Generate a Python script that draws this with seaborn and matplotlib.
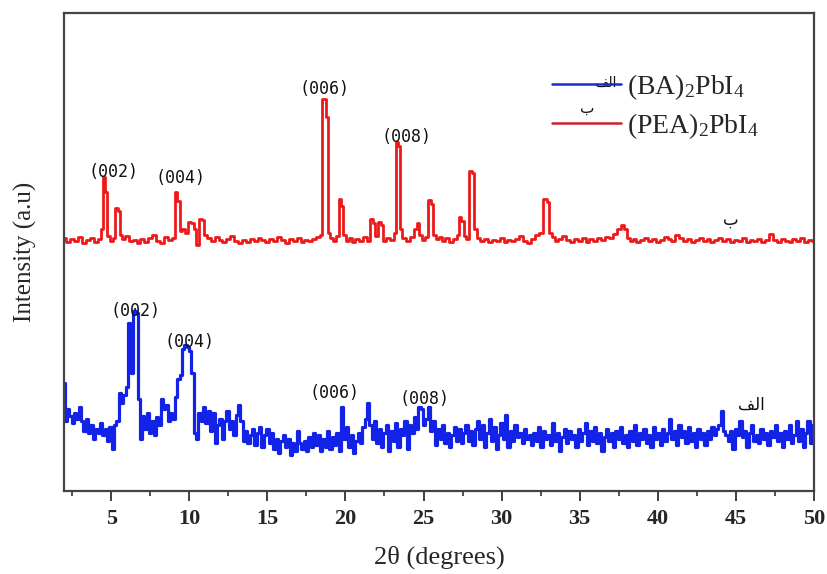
import matplotlib
matplotlib.use("Agg")
import matplotlib.pyplot as plt
from matplotlib.lines import Line2D
from matplotlib.ticker import MultipleLocator
import seaborn as sns
import pandas as pd

# ---------------- data ----------------
theta_pea = [2.0, 2.25, 2.5, 2.75, 3.0, 3.25, 3.5, 3.75, 4.0, 4.25, 4.45, 4.55, 4.68, 4.8, 5.0, 5.2, 5.35, 5.5, 5.6, 5.75,
             6.0, 6.25, 6.5, 6.75, 7.0, 7.25, 7.5, 7.75, 8.0, 8.25, 8.5, 8.75, 9.0, 9.15, 9.3, 9.45, 9.6, 9.8, 10.0, 10.2,
             10.35, 10.5, 10.7, 10.9, 11.05, 11.25, 11.5, 11.75, 12.0, 12.25, 12.5, 12.75, 13.0, 13.25, 13.5, 13.75, 14.0,
             14.25, 14.5, 14.75, 15.0, 15.25, 15.5, 15.75, 16.0, 16.25, 16.5, 16.75, 17.0, 17.25, 17.5, 17.75, 18.0, 18.25,
             18.45, 18.55, 18.7, 18.8, 18.95, 19.1, 19.3, 19.5, 19.65, 19.8, 19.95, 20.1, 20.3, 20.5, 20.75, 21.0, 21.25,
             21.45, 21.7, 21.85, 22.0, 22.2, 22.35, 22.5, 22.75, 23.0, 23.2, 23.3, 23.45, 23.55, 23.75, 24.0, 24.25, 24.5,
             24.65, 24.8, 25.0, 25.2, 25.4, 25.55, 25.7, 25.9, 26.1, 26.3, 26.5, 26.75, 27.0, 27.25, 27.35, 27.5, 27.65,
             27.85, 28.0, 28.15, 28.3, 28.5, 28.75, 29.0, 29.25, 29.5, 29.75, 30.0, 30.25, 30.5, 30.75, 31.0, 31.25, 31.5,
             31.75, 32.0, 32.25, 32.5, 32.8, 32.95, 33.1, 33.3, 33.5, 33.75, 34.0, 34.25, 34.5, 34.75, 35.0, 35.25, 35.5,
             35.75, 36.0, 36.25, 36.5, 36.75, 37.0, 37.25, 37.5, 37.75, 37.9, 38.1, 38.3, 38.5, 38.75, 39.0, 39.25, 39.5,
             39.75, 40.0, 40.25, 40.5, 40.75, 41.0, 41.25, 41.5, 41.75, 42.0, 42.25, 42.5, 42.75, 43.0, 43.25, 43.5, 43.75,
             44.0, 44.25, 44.5, 44.75, 45.0, 45.25, 45.5, 45.75, 46.0, 46.25, 46.5, 46.75, 47.0, 47.25, 47.5, 47.75, 48.0,
             48.25, 48.5, 48.75, 49.0, 49.25, 49.5, 49.75, 50.0]
int_pea = [253, 249, 252, 250, 254, 248, 251, 253, 249, 252, 262, 314, 299, 255, 250, 253, 283, 280, 256, 252,
           255, 250, 251, 248, 252, 249, 253, 256, 250, 248, 254, 251, 253, 299, 290, 260, 262, 258, 269, 268,
           262, 246, 272, 271, 256, 253, 250, 254, 251, 249, 252, 255, 250, 248, 251, 249, 252,
           250, 253, 251, 249, 252, 250, 254, 251, 248, 252, 250, 253, 249, 251, 250, 252, 254,
           256, 392, 392, 374, 258, 253, 250, 255, 292, 285, 256, 250, 253, 249, 252, 250, 254,
           250, 272, 268, 255, 269, 266, 250, 253, 251, 258, 349, 345, 262, 253, 250, 254, 262,
           268, 256, 251, 254, 291, 287, 256, 252, 254, 250, 253, 249, 252, 256, 274, 270, 255,
           252, 320, 318, 262, 253, 250, 252, 249, 251, 250, 253, 249, 251, 250, 252, 255, 250,
           248, 252, 256, 258, 292, 289, 258, 254, 250, 252, 255, 251, 249, 252, 250, 253, 249,
           252, 250, 253, 251, 254, 253, 257, 262, 266, 262, 253, 250, 252, 249, 251, 253, 250,
           252, 249, 251, 254, 252, 250, 256, 253, 250, 252, 249, 251, 253, 250, 252, 249, 251,
           253, 250, 252, 249, 251, 250, 253, 249, 251, 250, 252, 249, 251, 257, 251, 249, 252,
           250, 249, 252, 250, 253, 249, 251, 250]

theta_ba = [2.0, 2.1, 2.25, 2.4, 2.55, 2.7, 2.85, 3.0, 3.15, 3.3, 3.45, 3.6, 3.75, 3.9, 4.05, 4.2, 4.35, 4.5, 4.65, 4.8,
            4.95, 5.1, 5.25, 5.4, 5.55, 5.7, 5.85, 6.0, 6.1, 6.25, 6.35, 6.5, 6.62, 6.75, 6.9, 7.05, 7.2, 7.35, 7.5, 7.65,
            7.8, 7.95, 8.1, 8.25, 8.4, 8.55, 8.7, 8.85, 9.0, 9.15, 9.3, 9.45, 9.6, 9.75, 9.9, 10.05, 10.2, 10.35, 10.5,
            10.65, 10.8, 10.95, 11.1, 11.25, 11.4, 11.55, 11.7, 11.85, 12.0, 12.15, 12.3, 12.45, 12.6, 12.75, 12.9, 13.05,
            13.2, 13.35, 13.5, 13.65, 13.8, 13.95, 14.1, 14.25, 14.4, 14.55, 14.7, 14.85, 15.0, 15.15, 15.3, 15.45, 15.6,
            15.75, 15.9, 16.05, 16.2, 16.35, 16.5, 16.65, 16.8, 16.95, 17.1, 17.25, 17.4, 17.55, 17.7, 17.85, 18.0, 18.15,
            18.3, 18.45, 18.6, 18.75, 18.9, 19.05, 19.2, 19.35, 19.5, 19.65, 19.8, 19.95, 20.1, 20.25, 20.4, 20.55, 20.7,
            20.85, 21.0, 21.15, 21.3, 21.45, 21.6, 21.75, 21.9, 22.05, 22.2, 22.35, 22.5, 22.65, 22.8, 22.95, 23.1, 23.25,
            23.4, 23.55, 23.7, 23.85, 24.0, 24.15, 24.3, 24.45, 24.6, 24.75, 24.9, 25.05, 25.2, 25.35, 25.5, 25.65, 25.8,
            25.95, 26.1, 26.25, 26.4, 26.55, 26.7, 26.85, 27.0, 27.15, 27.3, 27.45, 27.6, 27.75, 27.9, 28.05, 28.2, 28.35,
            28.5, 28.65, 28.8, 28.95, 29.1, 29.25, 29.4, 29.55, 29.7, 29.85, 30.0, 30.15, 30.3, 30.45, 30.6, 30.75, 30.9,
            31.05, 31.2, 31.35, 31.5, 31.65, 31.8, 31.95, 32.1, 32.25, 32.4, 32.55, 32.7, 32.85, 33.0, 33.15, 33.3, 33.45,
            33.6, 33.75, 33.9, 34.05, 34.2, 34.35, 34.5, 34.65, 34.8, 34.95, 35.1, 35.25, 35.4, 35.55, 35.7, 35.85, 36.0,
            36.15, 36.3, 36.45, 36.6, 36.75, 36.9, 37.05, 37.2, 37.35, 37.5, 37.65, 37.8, 37.95, 38.1, 38.25, 38.4, 38.55,
            38.7, 38.85, 39.0, 39.15, 39.3, 39.45, 39.6, 39.75, 39.9, 40.05, 40.2, 40.35, 40.5, 40.65, 40.8, 40.95, 41.1,
            41.25, 41.4, 41.55, 41.7, 41.85, 42.0, 42.15, 42.3, 42.45, 42.6, 42.75, 42.9, 43.05, 43.2, 43.35, 43.5, 43.65,
            43.8, 43.95, 44.1, 44.25, 44.4, 44.55, 44.7, 44.85, 45.0, 45.15, 45.3, 45.45, 45.6, 45.75, 45.9, 46.05, 46.2,
            46.35, 46.5, 46.65, 46.8, 46.95, 47.1, 47.25, 47.4, 47.55, 47.7, 47.85, 48.0, 48.15, 48.3, 48.45, 48.6, 48.75,
            48.9, 49.05, 49.2, 49.35, 49.5, 49.65, 49.8, 49.95]
int_ba = [108, 70, 82, 75, 68, 78, 72, 84, 70, 60, 72, 58, 66, 52, 62, 58, 68, 56, 62, 50,
          64, 42, 66, 70, 98, 88, 96, 104, 168, 160, 118, 180, 178, 92, 52, 75, 62, 78, 58, 70,
          56, 74, 66, 92, 82, 86, 70, 78, 72, 94, 112, 116, 142, 146, 144, 140, 118, 58, 52,
          78, 70, 84, 68, 80, 60, 78, 48, 66, 72, 52, 70, 80, 62, 70, 56, 76,
          86, 70, 50, 60, 48, 56, 62, 46, 58, 64, 44, 56, 62, 48, 58, 42, 52,
          38, 50, 56, 44, 52, 36, 48, 40, 60, 48, 42, 50, 40, 54, 44, 58, 46,
          56, 40, 52, 44, 60, 42, 54, 46, 58, 40, 84, 52, 64, 44, 56, 38, 50,
          58, 48, 64, 72, 88, 66, 52, 70, 48, 62, 44, 58, 66, 40, 60, 50, 68,
          44, 62, 56, 70, 42, 66, 58, 74, 62, 84, 82, 66, 72, 84, 60, 70, 46,
          62, 52, 66, 48, 58, 44, 56, 64, 50, 62, 48, 58, 66, 50, 60, 46, 62,
          70, 52, 66, 44, 58, 72, 50, 64, 42, 56, 68, 52, 76, 44, 60, 50, 66,
          54, 58, 48, 62, 52, 56, 46, 58, 50, 64, 44, 60, 52, 56, 46, 68, 50,
          58, 40, 54, 62, 48, 60, 52, 56, 44, 62, 50, 58, 68, 46, 60, 50, 64,
          48, 58, 40, 54, 62, 50, 58, 44, 60, 52, 64, 48, 56, 44, 60, 50, 66,
          46, 58, 52, 62, 48, 56, 44, 64, 52, 58, 46, 62, 50, 58, 72, 52, 60,
          46, 66, 54, 60, 48, 64, 50, 58, 44, 62, 52, 58, 46, 60, 52, 64, 56,
          62, 66, 80, 60, 56, 50, 60, 42, 62, 56, 70, 54, 60, 44, 58, 66, 50,
          56, 48, 62, 52, 58, 46, 60, 54, 66, 50, 58, 44, 60, 52, 66, 48, 56,
          70, 50, 62, 44, 58, 70, 48, 66]

pea_label = "(PEA)$_2$PbI$_4$"
ba_label = "(BA)$_2$PbI$_4$"
pea_peaks = ["(002)", "(004)", "(006)", "(008)"]
pea_peak_pos = [5.12, 9.47, 18.63, 23.88]
pea_peak_int = [319, 313, 402, 354]
ba_peaks = ["(002)", "(004)", "(006)", "(008)"]
ba_peak_pos = [6.54, 10.03, 19.32, 25.06]
ba_peak_int = [180, 149, 98, 92]
xticks = [5, 10, 15, 20, 25, 30, 35, 40, 45, 50]

# ---------------- style ----------------
sns.set_theme(style="white")
plt.rcParams["font.family"] = ["Liberation Serif", "DejaVu Serif"]
plt.rcParams["mathtext.fontset"] = "custom"
plt.rcParams["mathtext.rm"] = "Liberation Serif"
plt.rcParams["mathtext.it"] = "Liberation Serif:italic"

RED = "#ec1a1a"
BLUE = "#1222e6"

fig = plt.figure(figsize=(8.27, 5.74), dpi=100)
ax = fig.add_axes([0.0778, 0.1446, 0.9064, 0.8333])

df_pea = pd.DataFrame({"theta": theta_pea, "intensity": int_pea})
df_ba = pd.DataFrame({"theta": theta_ba, "intensity": int_ba})
sns.lineplot(data=df_pea, x="theta", y="intensity", ax=ax, color=RED, lw=2.0,
             estimator=None, drawstyle="steps-mid")
sns.lineplot(data=df_ba, x="theta", y="intensity", ax=ax, color=BLUE, lw=2.3,
             estimator=None, drawstyle="steps-mid")

ax.set_xlim(2, 50)
ax.set_ylim(0, 478)
ax.set_xticks(xticks)
ax.set_xticklabels([str(t) for t in xticks], fontsize=16, fontweight="bold")
ax.xaxis.set_minor_locator(MultipleLocator(2.5))
ax.tick_params(axis="x", which="major", direction="out", length=7, width=1.3,
               color="#333333", bottom=True, pad=6)
ax.tick_params(axis="x", which="minor", direction="out", length=3.5, width=1.2,
               color="#333333", bottom=True)
ax.set_yticks([])
for s in ax.spines.values():
    s.set_visible(True)
    s.set_color("#444444")
    s.set_linewidth(1.6)

ax.set_xlabel("2θ (degrees)", fontsize=19, labelpad=12)
ax.set_ylabel("Intensity (a.u)", fontsize=18, labelpad=20)

mono = dict(family="DejaVu Sans Mono", fontsize=12, ha="center", va="center", color="#111111")
for lab, x, y in zip(pea_peaks, pea_peak_pos, pea_peak_int):
    ax.text(x, y, lab, **mono)
for lab, x, y in zip(ba_peaks, ba_peak_pos, ba_peak_int):
    ax.text(x, y, lab, **mono)

# Arabic curve markers (presentation forms in visual order)
ar_alef = "\uFED2\uFEDF\u0627"   # الف
ar_be = "\u0628"                 # ب
ax.text(46.0, 86, ar_alef, family=["DejaVu Sans"], fontsize=12, ha="center", va="center", color="#111111")
ax.text(44.7, 271, ar_be, family=["DejaVu Sans"], fontsize=12, ha="center", va="center", color="#111111")

handles = [Line2D([], [], color="#1a2cd0", lw=1.8), Line2D([], [], color="#cc2030", lw=1.8)]
leg = ax.legend(handles, [ba_label, pea_label], loc="upper left",
                bbox_to_anchor=(0.651, 0.876), frameon=False, fontsize=20,
                handlelength=2.48, handletextpad=0.22, labelspacing=0.33,
                borderaxespad=0.0, borderpad=0.0)
ax.text(0.722, 0.853, ar_alef, transform=ax.transAxes, family=["DejaVu Sans"],
        fontsize=10, ha="center", va="center", color="#111111")
ax.text(0.697, 0.800, ar_be, transform=ax.transAxes, family=["DejaVu Sans"],
        fontsize=11, ha="center", va="center", color="#111111")

fig.savefig("out.png", dpi=100)
